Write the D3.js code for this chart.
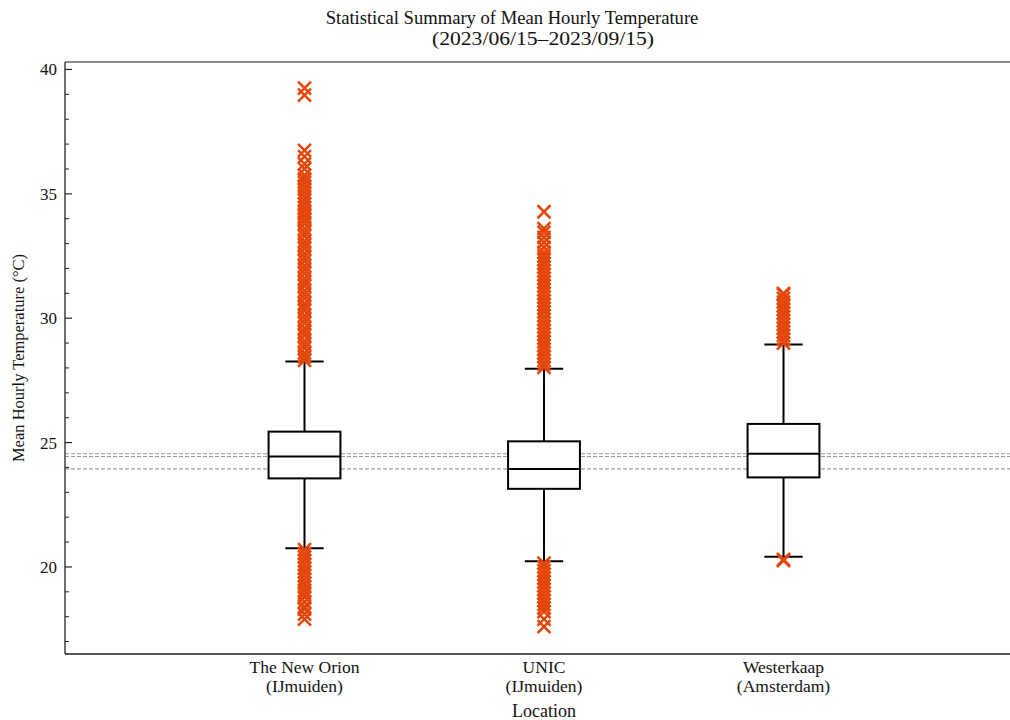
<!DOCTYPE html>
<html><head><meta charset="utf-8">
<script src="https://cdn.jsdelivr.net/npm/d3@7"></script>
<style>body{margin:0;background:#fff}svg{display:block}text{font-family:"Liberation Serif","DejaVu Serif",serif;fill:#111}</style>
</head><body><svg id="c" width="1010" height="720"></svg>
<script>
const categories = ["The New Orion|(IJmuiden)", "UNIC|(IJmuiden)", "Westerkaap|(Amsterdam)"];
const q1 = [23.56, 23.14, 23.60];
const medians = [24.44, 23.94, 24.55];
const q3 = [25.44, 25.05, 25.75];
const whiskerLow = [20.75, 20.23, 20.41];
const whiskerHigh = [28.26, 27.97, 28.94];
const outliersOrion = [39.25, 38.97, 36.75, 36.5, 36.2, 36.0, 35.75, 35.6, 35.45, 35.3, 35.2, 35.05, 34.9, 34.75, 34.6, 34.45, 34.3, 34.2, 34.1, 34.0,
  33.95, 33.8, 33.6, 33.45, 33.3, 33.1, 32.95, 32.8, 32.6, 32.45, 32.3, 32.1, 31.95, 31.8, 31.6, 31.45, 31.3, 31.1, 30.95, 30.8, 30.6, 30.45, 30.3, 30.1,
  29.95, 29.8, 29.6, 29.45, 29.3, 29.1, 28.95, 28.8, 28.6, 28.45, 28.3,
  20.7, 20.55, 20.4, 20.25, 20.1, 19.95, 19.8, 19.65, 19.5, 19.35, 19.2, 19.05, 18.95, 18.8, 18.6, 18.4, 18.3, 18.1, 17.9];
const outliersUnic = [34.28, 33.6, 33.45, 33.25, 33.05, 32.85, 32.65, 32.5, 32.35, 32.2, 32.05, 31.9, 31.75, 31.6, 31.45, 31.3, 31.15, 31.0, 30.85, 30.7,
  30.55, 30.4, 30.25, 30.1, 29.95, 29.8, 29.65, 29.5, 29.35, 29.2, 29.05, 28.9, 28.75, 28.6, 28.45, 28.3, 28.15, 28.02,
  20.15, 20.0, 19.85, 19.7, 19.55, 19.4, 19.25, 19.1, 18.95, 18.8, 18.65, 18.5, 18.35, 18.2, 17.9, 17.6];
const outliersWesterkaap = [31.0, 30.95, 30.8, 30.65, 30.5, 30.35, 30.2, 30.05, 29.9, 29.75, 29.6, 29.45, 29.3, 29.15, 29.0, 20.3, 20.25];
const yTicks = [20, 25, 30, 35, 40];
const yMinorTicks = [17, 18, 19, 21, 22, 23, 24, 26, 27, 28, 29, 31, 32, 33, 34, 36, 37, 38, 39];
const titleLines = ["Statistical Summary of Mean Hourly Temperature", "(2023/06/15\u20132023/09/15)"];
const yLabel = "Mean Hourly Temperature (\u00B0C)";
const xLabel = "Location";

const outliers = [outliersOrion, outliersUnic, outliersWesterkaap];
const svg = d3.select("#c");
const L = 65, T = 62, B = 654, R = 1023;
const x = d3.scaleLinear().domain([0, 4]).range([L, R]);
const y = d3.scaleLinear().domain([16.5, 40.3]).range([B, T]);
const orange = "#e4470c";
const boxHalf = 0.15, capHalf = 0.08;

// median reference lines
svg.append("g").selectAll("line").data(medians).join("line")
  .attr("x1", L).attr("x2", R).attr("y1", d => y(d)).attr("y2", d => y(d))
  .attr("stroke", "#9a9a9a").attr("stroke-width", 1.2).attr("stroke-dasharray", "4,2");

const g = svg.append("g").selectAll("g").data(categories).join("g");
g.append("line").attr("x1", (d,i)=>x(i+1)).attr("x2", (d,i)=>x(i+1))
  .attr("y1", (d,i)=>y(q3[i])).attr("y2", (d,i)=>y(whiskerHigh[i])).attr("stroke","#000").attr("stroke-width",2);
g.append("line").attr("x1", (d,i)=>x(i+1)).attr("x2", (d,i)=>x(i+1))
  .attr("y1", (d,i)=>y(q1[i])).attr("y2", (d,i)=>y(whiskerLow[i])).attr("stroke","#000").attr("stroke-width",2);
g.append("line").attr("x1", (d,i)=>x(i+1-capHalf)).attr("x2", (d,i)=>x(i+1+capHalf))
  .attr("y1", (d,i)=>y(whiskerHigh[i])).attr("y2", (d,i)=>y(whiskerHigh[i])).attr("stroke","#000").attr("stroke-width",2);
g.append("line").attr("x1", (d,i)=>x(i+1-capHalf)).attr("x2", (d,i)=>x(i+1+capHalf))
  .attr("y1", (d,i)=>y(whiskerLow[i])).attr("y2", (d,i)=>y(whiskerLow[i])).attr("stroke","#000").attr("stroke-width",2);
g.append("rect").attr("x", (d,i)=>x(i+1-boxHalf)).attr("width", x(1+boxHalf)-x(1-boxHalf))
  .attr("y", (d,i)=>y(q3[i])).attr("height", (d,i)=>y(q1[i])-y(q3[i]))
  .attr("fill","#fff").attr("stroke","#000").attr("stroke-width",2);
g.append("line").attr("x1", (d,i)=>x(i+1-boxHalf)).attr("x2", (d,i)=>x(i+1+boxHalf))
  .attr("y1", (d,i)=>y(medians[i])).attr("y2", (d,i)=>y(medians[i])).attr("stroke","#000").attr("stroke-width",2);

// outliers as x markers
const s = 6.5;
g.each(function(d,i){
  d3.select(this).append("g").selectAll("path").data(outliers[i]).join("path")
    .attr("d", v => { const cx = x(i+1), cy = y(v); return `M${cx-s},${cy-s}L${cx+s},${cy+s}M${cx-s},${cy+s}L${cx+s},${cy-s}`; })
    .attr("stroke", orange).attr("stroke-width", 2.5).attr("fill","none");
});

// spines
svg.append("line").attr("x1",L).attr("x2",R).attr("y1",T).attr("y2",T).attr("stroke","#666").attr("stroke-width",1.3);
svg.append("line").attr("x1",L).attr("x2",R).attr("y1",B).attr("y2",B).attr("stroke","#222").attr("stroke-width",1.3);
svg.append("line").attr("x1",L).attr("x2",L).attr("y1",T).attr("y2",B).attr("stroke","#222").attr("stroke-width",1.3);

// y axis ticks (inward)
svg.append("g").selectAll("line").data(yMinorTicks).join("line")
  .attr("x1",L).attr("x2",L+4).attr("y1",d=>y(d)).attr("y2",d=>y(d)).attr("stroke","#222").attr("stroke-width",1);
svg.append("g").selectAll("line").data(yTicks).join("line")
  .attr("x1",L).attr("x2",L+7).attr("y1",d=>y(d)).attr("y2",d=>y(d)).attr("stroke","#222").attr("stroke-width",1.2);
svg.append("g").selectAll("text").data(yTicks).join("text")
  .attr("x",L-8).attr("y",d=>y(d)).attr("dy","0.35em").attr("text-anchor","end").attr("font-size",17).text(d=>d);

// x labels
svg.append("g").selectAll("text").data(categories).join("text")
  .attr("x",(d,i)=>x(i+1)).attr("y",673).attr("text-anchor","middle").attr("font-size",17.5)
  .each(function(d){ const parts=d.split("|"); const t=d3.select(this);
    t.append("tspan").attr("x",t.attr("x")).text(parts[0]);
    t.append("tspan").attr("x",t.attr("x")).attr("dy",19).text(parts[1]); });
svg.append("text").attr("x",x(2)).attr("y",717).attr("text-anchor","middle").attr("font-size",18).text(xLabel);
svg.append("text").attr("transform",`translate(24,${(T+B)/2}) rotate(-90)`).attr("text-anchor","middle").attr("font-size",16.5).text(yLabel);

svg.append("text").attr("x",512).attr("y",24).attr("text-anchor","middle").attr("font-size",18.6).text(titleLines[0]);
svg.append("text").attr("x",543).attr("y",45).attr("text-anchor","middle").attr("font-size",18.6)
  .attr("textLength",222).attr("lengthAdjust","spacingAndGlyphs").text(titleLines[1]);
</script></body></html>
